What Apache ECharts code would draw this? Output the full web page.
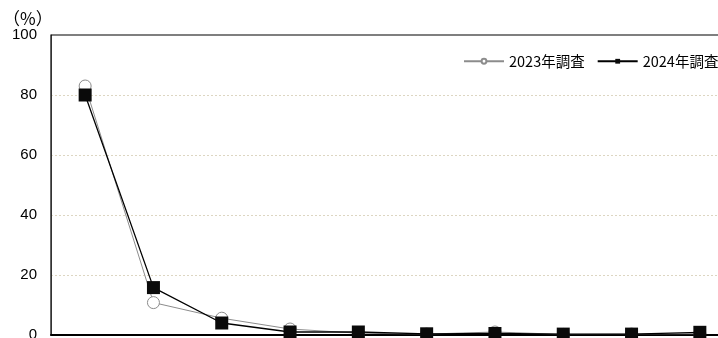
<!DOCTYPE html>
<html><head><meta charset="utf-8">
<script src="https://cdn.jsdelivr.net/npm/echarts@6/dist/echarts.min.js"></script>
<style>html,body{margin:0;padding:0;background:#fff;overflow:hidden;}#c{width:718px;height:338px;}</style>
</head><body><div id="c"></div>
<script>
const categories = ['1','2','3','4','5','6','7','8','9','10'];
const yTicks = [0, 20, 40, 60, 80, 100];
const s2023Name = '2023年調査';
const s2024Name = '2024年調査';
const s2023 = [83, 10.8, 5.6, 2.0, 0.6, 0.3, 1.0, 0.2, 0.3, 0.4];
const s2024 = [80, 15.8, 4.0, 1.0, 1.0, 0.4, 0.5, 0.3, 0.3, 0.9];

const chart = echarts.init(document.getElementById('c'));
chart.setOption({
  animation: false,
  backgroundColor: '#fff',
  title: {
    text: '（%）', left: -2, top: 5,
    textStyle: {fontFamily: 'Noto Sans CJK JP', fontSize: 17, fontWeight: 'normal', color: '#000'}
  },
  legend: {
    left: 458, top: 49, width: 320, orient: 'horizontal',
    itemWidth: 40, itemHeight: 6, itemGap: 12,
    textStyle: {fontFamily: 'Noto Sans CJK JP', fontSize: 14.5, color: '#000'},
    data: [s2023Name, s2024Name]
  },
  grid: {
    left: 51, top: 35, width: 683, height: 300,
    outerBoundsMode: 'none', containLabel: false,
    show: true, borderColor: '#000', borderWidth: 1.2, z: 3
  },
  xAxis: {
    type: 'category', data: categories, boundaryGap: true,
    axisLine: {lineStyle: {color: '#000', width: 2}},
    axisTick: {inside: true, length: 5, lineStyle: {color: '#000', width: 1}},
    axisLabel: {show: false}
  },
  yAxis: {
    type: 'value', min: yTicks[0], max: yTicks[yTicks.length - 1], interval: 20,
    axisLine: {show: true, lineStyle: {color: '#808080', width: 1}},
    axisTick: {show: false},
    axisLabel: {margin: 14, fontFamily: 'Liberation Sans', fontSize: 15, color: '#000'},
    splitLine: {showMaxLine: false, showMinLine: false, lineStyle: {color: '#ddd6c2', type: [2, 2], width: 1}}
  },
  series: [
    {
      name: s2023Name, type: 'line', data: s2023,
      symbol: 'circle', symbolSize: 12,
      lineStyle: {color: '#8c8c8c', width: 1},
      itemStyle: {color: '#fff', borderColor: '#8c8c8c', borderWidth: 1},
      z: 2
    },
    {
      name: s2024Name, type: 'line', data: s2024,
      symbol: 'rect', symbolSize: 13,
      lineStyle: {color: '#000', width: 1.3},
      itemStyle: {color: '#0a0a0a', borderColor: '#000', borderWidth: 0},
      z: 3
    }
  ]
});
</script></body></html>
